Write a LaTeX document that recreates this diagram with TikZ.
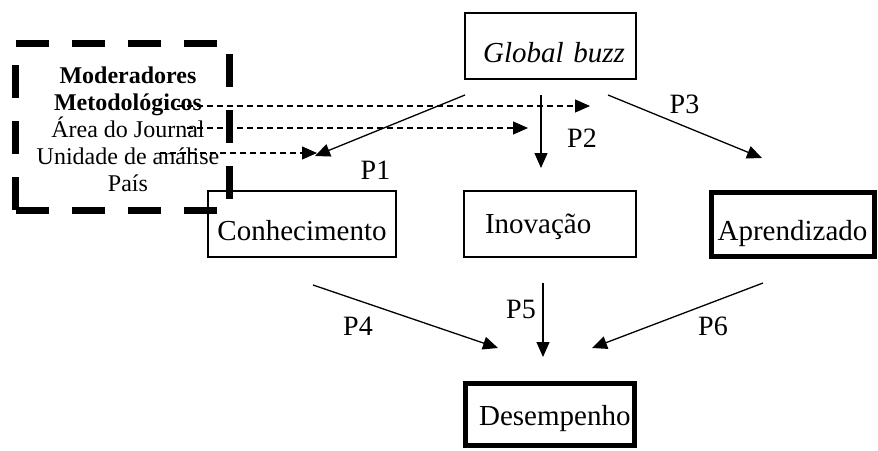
\documentclass[tikz,border=0pt]{standalone}
\usepackage{fontspec}
\setmainfont{Liberation Serif}
\usetikzlibrary{arrows.meta}

\begin{document}
\begin{tikzpicture}[
  x=1pt, y=-1pt,
  box/.style={draw, line width=1.5pt, inner sep=0pt, font=\fontsize{29}{34}\selectfont, anchor=base},
  thickbox/.style={box, line width=5pt},
  modframe/.style={draw, line width=7pt, dash pattern=on 33pt off 23pt, line join=miter},
  modtext/.style={align=center, inner sep=0pt, anchor=base, font=\fontsize{24}{27}\selectfont},
  plabel/.style={font=\fontsize{28}{32}\selectfont, inner sep=0pt, anchor=base},
  arr/.style={-{Triangle[length=15pt,width=13pt]}, line width=1.3pt},
  darr/.style={arr, line width=1.2pt, dash pattern=on 6pt off 4pt}
]
\useasboundingbox (0,0) rectangle (878,450);

% boxes
\node[box, text width=149pt, inner xsep=11pt, align=right, text height=49pt, text depth=17pt]
  (buzz) at (550.5,62) {\textit{Global buzz}};
\node[box, minimum width=188pt, text height=49pt, text depth=17pt] (conh) at (302,240) {Conhecimento};
\node[box, text width=130pt, inner xsep=21pt, align=left, text height=42pt, text depth=24pt]
  (inov) at (550,233) {Inovação};
\node[thickbox, minimum width=163pt, text height=48pt, text depth=16pt] (apren) at (792.5,240) {Aprendizado};
\node[thickbox, text width=161pt, inner xsep=4pt, align=right, text height=41.5pt, text depth=20.5pt]
  (desemp) at (550,425) {Desempenho};

% moderadores (base = last line)
\node[modtext] (modtxt) at (128,191)
  {\textbf{Moderadores}\\\textbf{Metodológicos}\\Área do Journal\\Unidade de análise\\País};
\coordinate (mSW) at (15,210);
\coordinate (mNE) at (229,43);
\draw[modframe] (mSW) -- (mSW |- mNE) -- (mNE) -- (mNE |- mSW) -- cycle;

% free ends of the connectors
\coordinate (p1a) at (465,95);  \coordinate (p1b) at (315,156);
\coordinate (p2a) at (541,95);  \coordinate (p2b) at (541,168);
\coordinate (p3a) at (608,95);  \coordinate (p3b) at (762,158);
\coordinate (p4a) at (313,285); \coordinate (p4b) at (498,348);
\coordinate (p5a) at (543,283); \coordinate (p5b) at (543,357);
\coordinate (p6a) at (763,283); \coordinate (p6b) at (592,348);
\coordinate (m1a) at (177,106); \coordinate (m1b) at (590,106);
\coordinate (m2a) at (187,128); \coordinate (m2b) at (528,128);
\coordinate (m3a) at (160,153); \coordinate (m3b) at (317,153);

\draw[arr] (p1a) -- (p1b);
\draw[arr] (p2a) -- (p2b);
\draw[arr] (p3a) -- (p3b);
\draw[arr] (p4a) -- (p4b);
\draw[arr] (p5a) -- (p5b);
\draw[arr] (p6a) -- (p6b);

\draw[darr] (m1a) -- (m1b);
\draw[darr] (m2a) -- (m2b);
\draw[darr] (m3a) -- (m3b);

% labels
\node[plabel] (lp1) at (375.5,179) {P1};
\node[plabel] (lp2) at (582,147) {P2};
\node[plabel] (lp3) at (684.5,113) {P3};
\node[plabel] (lp4) at (358,335) {P4};
\node[plabel] (lp5) at (521,318) {P5};
\node[plabel] (lp6) at (713,335) {P6};
\end{tikzpicture}
\end{document}
